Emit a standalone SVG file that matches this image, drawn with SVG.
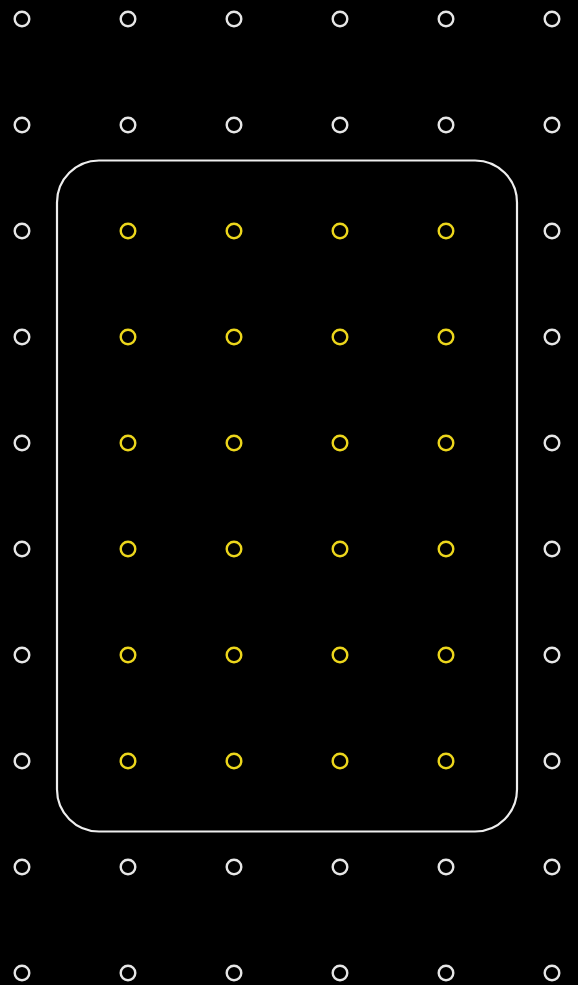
<svg xmlns="http://www.w3.org/2000/svg" width="578" height="985" viewBox="0 0 578 985">
<style>
.w{fill:none;stroke:#e6e6e6;stroke-width:2.4}
.y{fill:none;stroke:#ecd61c;stroke-width:2.4}
.frame{fill:none;stroke:#eeeeee;stroke-width:2.2}
</style>
<defs>
<circle id="c" r="7.3"/>
</defs>
<rect width="578" height="985" fill="#000"/>
<g id="frame"><rect class="frame" x="57" y="160.5" width="460" height="671" rx="42"/></g>
<g id="outer">
<use href="#c" class="w" x="22" y="19"/><use href="#c" class="w" x="128" y="19"/><use href="#c" class="w" x="234" y="19"/><use href="#c" class="w" x="340" y="19"/><use href="#c" class="w" x="446" y="19"/><use href="#c" class="w" x="552" y="19"/>
<use href="#c" class="w" x="22" y="125"/><use href="#c" class="w" x="128" y="125"/><use href="#c" class="w" x="234" y="125"/><use href="#c" class="w" x="340" y="125"/><use href="#c" class="w" x="446" y="125"/><use href="#c" class="w" x="552" y="125"/>
<use href="#c" class="w" x="22" y="231"/><use href="#c" class="w" x="552" y="231"/>
<use href="#c" class="w" x="22" y="337"/><use href="#c" class="w" x="552" y="337"/>
<use href="#c" class="w" x="22" y="443"/><use href="#c" class="w" x="552" y="443"/>
<use href="#c" class="w" x="22" y="549"/><use href="#c" class="w" x="552" y="549"/>
<use href="#c" class="w" x="22" y="655"/><use href="#c" class="w" x="552" y="655"/>
<use href="#c" class="w" x="22" y="761"/><use href="#c" class="w" x="552" y="761"/>
<use href="#c" class="w" x="22" y="867"/><use href="#c" class="w" x="128" y="867"/><use href="#c" class="w" x="234" y="867"/><use href="#c" class="w" x="340" y="867"/><use href="#c" class="w" x="446" y="867"/><use href="#c" class="w" x="552" y="867"/>
<use href="#c" class="w" x="22" y="973"/><use href="#c" class="w" x="128" y="973"/><use href="#c" class="w" x="234" y="973"/><use href="#c" class="w" x="340" y="973"/><use href="#c" class="w" x="446" y="973"/><use href="#c" class="w" x="552" y="973"/>
</g>
<g id="inner">
<use href="#c" class="y" x="128" y="231"/><use href="#c" class="y" x="234" y="231"/><use href="#c" class="y" x="340" y="231"/><use href="#c" class="y" x="446" y="231"/>
<use href="#c" class="y" x="128" y="337"/><use href="#c" class="y" x="234" y="337"/><use href="#c" class="y" x="340" y="337"/><use href="#c" class="y" x="446" y="337"/>
<use href="#c" class="y" x="128" y="443"/><use href="#c" class="y" x="234" y="443"/><use href="#c" class="y" x="340" y="443"/><use href="#c" class="y" x="446" y="443"/>
<use href="#c" class="y" x="128" y="549"/><use href="#c" class="y" x="234" y="549"/><use href="#c" class="y" x="340" y="549"/><use href="#c" class="y" x="446" y="549"/>
<use href="#c" class="y" x="128" y="655"/><use href="#c" class="y" x="234" y="655"/><use href="#c" class="y" x="340" y="655"/><use href="#c" class="y" x="446" y="655"/>
<use href="#c" class="y" x="128" y="761"/><use href="#c" class="y" x="234" y="761"/><use href="#c" class="y" x="340" y="761"/><use href="#c" class="y" x="446" y="761"/>
</g>
</svg>
